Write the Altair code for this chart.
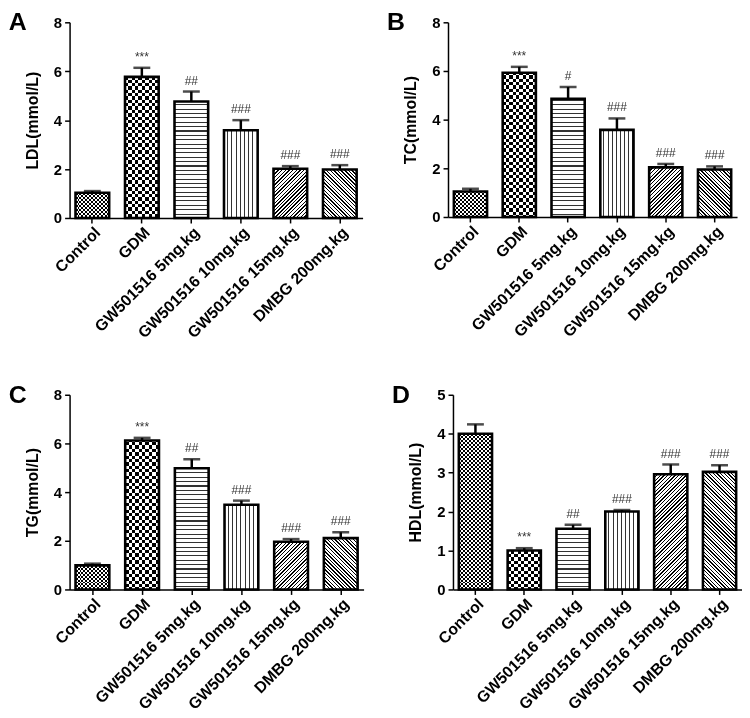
import math
import altair as alt
import pandas as pd

categories = ["Control", "GDM", "GW501516 5mg.kg", "GW501516 10mg.kg",
              "GW501516 15mg.kg", "DMBG 200mg.kg"]

ldl_mean = [1.03, 5.77, 4.76, 3.59, 2.01, 1.98]
ldl_err = [0.07, 0.37, 0.41, 0.41, 0.11, 0.18]
ldl_sig = ["", "***", "##", "###", "###", "###"]

tc_mean = [1.05, 5.93, 4.86, 3.58, 2.04, 1.95]
tc_err = [0.11, 0.24, 0.48, 0.47, 0.14, 0.13]
tc_sig = ["", "***", "#", "###", "###", "###"]

tg_mean = [0.99, 6.12, 4.98, 3.48, 1.96, 2.11]
tg_err = [0.07, 0.11, 0.37, 0.17, 0.11, 0.24]
tg_sig = ["", "***", "##", "###", "###", "###"]

hdl_mean = [4.00, 1.00, 1.56, 2.00, 2.96, 3.02]
hdl_err = [0.24, 0.06, 0.10, 0.04, 0.25, 0.17]
hdl_sig = ["", "***", "##", "###", "###", "###"]

FONT = "Liberation Sans"
N = len(categories)
P_IN = 0.32
P_OUT = 0.12


def stripe_stops(period_frac, line_frac, line_col, bg_col):
    pts = []
    k = 0
    while k * period_frac < 1:
        a = k * period_frac
        b = min(a + (1 - line_frac) * period_frac, 1.0)
        c = min(a + period_frac, 1.0)
        pts += [(a, bg_col), (b, bg_col), (b, line_col), (c, line_col)]
        k += 1
    return [alt.GradientStop(color=col, offset=round(off, 5)) for off, col in pts]


def grad(x1, y1, x2, y2, stops):
    return alt.LinearGradient(gradient="linear", stops=stops,
                              x1=x1, y1=y1, x2=x2, y2=y2)


def hstripes(h, period, line, lc="#333", bg="white"):
    return grad(0, 0, 0, 1, stripe_stops(period / h, line / period, lc, bg))


def vstripes(w, period, line, lc="#333", bg="white"):
    return grad(0, 0, 1, 0, stripe_stops(period / w, line / period, lc, bg))


def diag(w, h, period, line, up=True, lc="black", bg="white"):
    c = (w + h) / (w * w + h * h)
    length = (w + h) / math.sqrt(2)
    st = stripe_stops(period / length, line / period, lc, bg)
    if up:
        return grad(0, 0, c * w, c * h, st)
    return grad(1, 0, 1 - c * w, c * h, st)


def panel(letter, ytitle, means, errs, sigs, ymax, ystep, width, height):
    df = pd.DataFrame({"cat": categories, "value": means, "err": errs, "sig": sigs})
    df["cap"] = df["value"] + df["err"]
    df["top"] = float(ymax)
    df["ctop"] = float(ymax) * 1.03
    df["zero"] = 0.0

    step = width / (N - P_IN + 2 * P_OUT)
    bw = step * (1 - P_IN)
    h = height

    xaxis = alt.Axis(labelAngle=-45, labelAlign="right", labelBaseline="top",
                     labelFont=FONT, labelFontSize=16, labelFontWeight="bold",
                     labelColor="black", labelPadding=1, tickSize=5,
                     tickColor="black", tickWidth=1.5, domainColor="black",
                     domainWidth=1.5, title=None, labelOverlap=False,
                     labelLimit=0)
    x = alt.X("cat:N", sort=categories,
              scale=alt.Scale(paddingInner=P_IN, paddingOuter=P_OUT),
              axis=xaxis)
    yscale = alt.Scale(domain=[0, ymax], nice=False, zero=True)
    yaxis = alt.Axis(values=list(range(0, ymax + 1, ystep)), title=ytitle,
                     labelFont=FONT, labelFontSize=15, labelFontWeight="bold",
                     labelColor="black", labelPadding=3, tickSize=5,
                     tickColor="black", tickWidth=1.5, domainColor="black",
                     domainWidth=1.5, grid=False, titleFont=FONT,
                     titleFontSize=16, titleFontWeight="bold",
                     titleColor="black", titlePadding=13)

    def Y(f):
        return alt.Y(f"{f}:Q", scale=yscale, axis=yaxis)

    base = alt.Chart(df)

    fine = 2.0
    coarse = bw / 10.0
    patterns = [
        [hstripes(h, 2 * fine, fine, "black", "white"),
         vstripes(bw, 2 * fine, fine, "black", "white")],
        [hstripes(h, 2 * coarse, coarse, "black", "white"),
         vstripes(bw, 2 * coarse, coarse, "black", "white")],
        [hstripes(h, 4.4, 1.1, "#333", "white")],
        [vstripes(bw, bw / 8.0, 1.1, "#333", "white")],
        [diag(bw, h, 2.6, 1.0, True)],
        [diag(bw, h, 2.6, 1.0, False)],
    ]

    layers = []
    for cat, pats in zip(categories, patterns):
        sub = base.transform_filter(alt.datum.cat == cat)
        for i, g in enumerate(pats):
            kw = {"blend": "difference"} if i > 0 else {}
            layers.append(
                sub.mark_bar(fill=g, strokeWidth=0, **kw).encode(
                    x=x, y=Y("top"), y2=alt.Y2("zero")))

    cover = base.mark_bar(fill="white", strokeWidth=0,
                          width=alt.RelativeBandSize(1.15)).encode(
        x=x, y=Y("ctop"), y2=alt.Y2("value"))
    outline = base.mark_bar(fillOpacity=0, stroke="black", strokeWidth=2.6).encode(
        x=x, y=Y("value"), y2=alt.Y2("zero"))
    stem = base.mark_rule(color="black", strokeWidth=2.5).encode(
        x=x, y=Y("value"), y2=alt.Y2("cap"))
    cap = base.mark_tick(color="black", thickness=2.5, size=17,
                         orient="horizontal").encode(x=x, y=Y("cap"))
    txt = base.mark_text(baseline="bottom", dy=-4, fontSize=12, color="#333",
                         font=FONT).encode(x=x, y=Y("cap"), text="sig:N")

    return alt.layer(*layers, cover, outline, stem, cap, txt).properties(
        width=width, height=height,
        title=alt.TitleParams(letter, anchor="start", frame="bounds",
                              font=FONT, fontSize=25, fontWeight="bold",
                              color="black", offset=-20, dx=-16))


A = panel("A", "LDL(mmol/L)", ldl_mean, ldl_err, ldl_sig, 8, 2, 295, 197)
B = panel("B", "TC(mmol/L)", tc_mean, tc_err, tc_sig, 8, 2, 291, 196)
C = panel("C", "TG(mmol/L)", tg_mean, tg_err, tg_sig, 8, 2, 296, 196)
D = panel("D", "HDL(mmol/L)", hdl_mean, hdl_err, hdl_sig, 5, 1, 291, 196)

chart = alt.vconcat(
    alt.hconcat(A, B, spacing=24),
    alt.hconcat(C, D, spacing=28),
    spacing=42,
).properties(padding=0, background="white").configure_view(stroke=None)

chart.save("out.html", embed_options={"renderer": "svg", "actions": False})
